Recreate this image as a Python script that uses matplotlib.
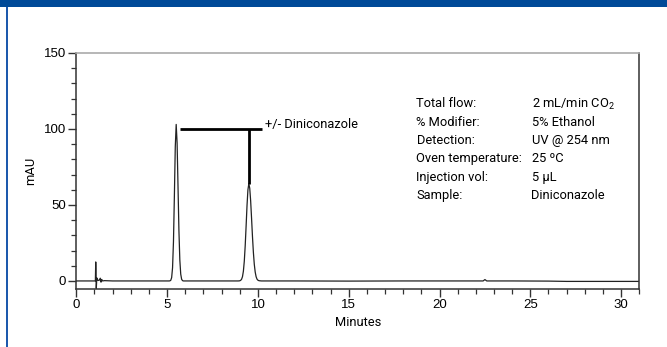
import matplotlib
matplotlib.use("Agg")
import matplotlib.pyplot as plt
from matplotlib.ticker import MultipleLocator
from matplotlib.patches import Rectangle

# ---- data ----
time_min = [0.0, 0.5, 1.0, 1.05, 1.07, 1.08, 1.10, 1.13, 1.18, 1.25, 1.32, 1.36, 1.40, 1.45, 1.55, 2.0,
            3.0, 4.0, 5.0, 5.10, 5.15, 5.20, 5.25, 5.30, 5.35, 5.40, 5.45, 5.50, 5.55, 5.60, 5.65,
            5.70, 5.75, 5.80, 5.85, 5.90, 6.5, 7.5, 8.5, 8.90, 8.95, 9.00, 9.05, 9.10, 9.15, 9.20,
            9.25, 9.30, 9.35, 9.40, 9.45, 9.50, 9.55, 9.60, 9.65, 9.70, 9.75, 9.80, 9.85, 9.90,
            9.95, 10.00, 10.05, 10.10, 10.20, 12.0, 15.0, 18.0, 20.0, 22.4, 22.5, 22.6, 24.0,
            26.0, 27.0, 28.0, 29.0, 30.0, 31.0]
signal_mau = [0.0, 0.0, 0.0, 0.0, 12.5, 8.0, -5.0, 2.0, 0.5, 0.3, 1.8, -0.8, 1.0, 0.0, 0.2, 0.0,
              0.0, 0.0, 0.0, 0.0, 0.05, 0.4, 2.2, 8.7, 25.7, 55.6, 88.3, 103.0, 90.9, 62.5, 33.4,
              13.9, 4.5, 1.1, 0.2, 0.0, 0.0, 0.0, 0.0, 0.0, 0.03, 0.1, 0.4, 1.1, 2.8, 6.4,
              13.0, 23.1, 36.1, 49.6, 60.0, 64.0, 61.0, 52.7, 41.3, 29.3, 18.9, 11.0, 5.9, 2.8,
              1.2, 0.5, 0.2, 0.1, 0.0, 0.0, -0.1, 0.0, 0.0, 0.0, 0.9, 0.0, 0.0,
              -0.1, -0.3, -0.3, -0.3, -0.3, -0.3]

x_ticks = [0, 5, 10, 15, 20, 25, 30]
y_ticks = [0, 50, 100, 150]

bracket_y = 100
bracket_x = [5.7, 10.2]
stem_x = 9.5
stem_bottom = 64
peak_label = "+/- Diniconazole"

cond_labels = ["Total flow:", "% Modifier:", "Detection:", "Oven temperature:",
               "Injection vol:", "Sample:"]
cond_values = ["2 mL/min CO$_2$", "5% Ethanol", "UV @ 254 nm", "25 \u00baC",
               "5 \u00b5L", "Diniconazole"]

W, H = 667, 347
fig = plt.figure(figsize=(W / 100, H / 100), dpi=100)
fig.patch.set_facecolor("white")
plt.rcParams["mathtext.fontset"] = "custom"
plt.rcParams["mathtext.rm"] = "Roboto"

# frame decorations
fig.add_artist(Rectangle((0, 1 - 7 / H), 1, 7 / H, transform=fig.transFigure,
                         facecolor="#004a98", edgecolor="none"))
fig.add_artist(Rectangle((5.5 / W, 0), 2.2 / W, 1 - 7 / H, transform=fig.transFigure,
                         facecolor="#1d59ad", edgecolor="none"))

ax = fig.add_axes([76.3 / W, 1 - 289 / H, (639.3 - 76.3) / W, (289 - 53) / H])
ax.plot(time_min, signal_mau, color="#222222", lw=0.9)

ax.set_xlim(0, 31)
ax.set_ylim(-5.3, 150)
ax.xaxis.set_major_locator(MultipleLocator(5))
ax.xaxis.set_minor_locator(MultipleLocator(1))
ax.yaxis.set_major_locator(MultipleLocator(50))
ax.yaxis.set_minor_locator(MultipleLocator(10))
ax.set_xticks(x_ticks)
ax.set_yticks(y_ticks)

ax.tick_params(which="major", length=6, width=1.0, color="#333333", labelsize=9.5, pad=1.5)
ax.tick_params(which="minor", length=3.5, width=0.9, color="#333333")
for lab in ax.get_xticklabels() + ax.get_yticklabels():
    lab.set_fontfamily("Liberation Sans")

ax.spines["top"].set_color("#aaaaaa")
ax.spines["top"].set_linewidth(1.2)
for s in ["left", "bottom", "right"]:
    ax.spines[s].set_color("#333333")
    ax.spines[s].set_linewidth(1.1)

cfont = ["Roboto", "DejaVu Sans"]
fs = 9.3
ax.set_xlabel("Minutes", fontfamily=cfont, fontsize=fs, labelpad=3)
ax.set_ylabel("mAU", fontfamily=cfont, fontsize=fs, labelpad=5)

# annotation bracket
ax.plot(bracket_x, [bracket_y, bracket_y], color="black", lw=2.0, solid_capstyle="butt")
ax.plot([stem_x, stem_x], [bracket_y, stem_bottom], color="black", lw=2.0, solid_capstyle="butt")
ax.text(10.4, 103, peak_label, fontfamily=cfont, fontsize=fs, va="center", ha="left")

# conditions
for i, (lab, val) in enumerate(zip(cond_labels, cond_values)):
    ypx = 104 + i * 18.3
    fig.text(416.5 / W, 1 - ypx / H, lab, fontfamily=cfont, fontsize=fs, va="center", ha="left")
    fig.text(531.5 / W, 1 - ypx / H, val, fontfamily=cfont, fontsize=fs, va="center", ha="left")

fig.savefig("out.png", dpi=100)
